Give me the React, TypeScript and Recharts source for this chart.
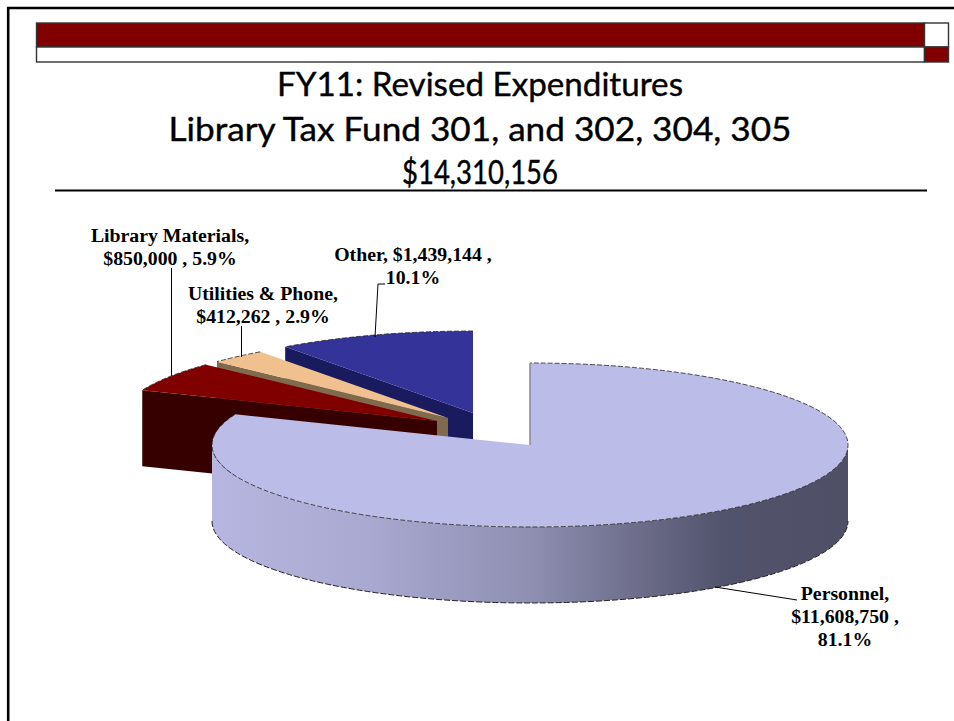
import { PieChart, Pie } from "recharts"

const CATEGORIES = ["Other", "Utilities & Phone", "Library Materials", "Personnel"]
const AMOUNTS = [1439144, 412262, 850000, 11608750]

const chartData = CATEGORIES.map((name, i) => ({ name, value: AMOUNTS[i] }))

const TITLE_LINES = ["FY11: Revised Expenditures", "Library Tax Fund 301, and 302, 304, 305", "$14,310,156"]
const TITLE_BASELINES = [96, 141, 184]
const TITLE_WIDTHS = [406, 623, 156]

const WIDTH = 954
const HEIGHT = 721
const SQUASH = 82 / 318
const DEPTH = 76

// per slice look: exploded offset from the pie center, and colors
const SLICE_STYLE: Record<string, { dx: number; dy: number; top: string; side: string }> = {
  Other: { dx: -57, dy: -32, top: "#333399", side: "#1a1a5e" },
  "Utilities & Phone": { dx: -82, dy: -27, top: "#f0c08e", side: "#7f6a4e" },
  "Library Materials": { dx: -93, dy: -24, top: "#800000", side: "#360000" },
  Personnel: { dx: 0, dy: 0, top: "#bcbce9", side: "url(#personnelSide)" },
}

const LABEL_STYLE: Record<string, { x: number; y: number; lines: (v: string, p: string) => string[]; leader: [number, number][] }> = {
  Other: {
    x: 413,
    y: 261,
    lines: (v, p) => [`Other, ${v} ,`, p],
    leader: [[385, 284], [378, 284], [375, 337]],
  },
  "Utilities & Phone": {
    x: 263,
    y: 300,
    lines: (v, p) => ["Utilities & Phone,", `${v} , ${p}`],
    leader: [[241.5, 326], [241.5, 357]],
  },
  "Library Materials": {
    x: 170,
    y: 242,
    lines: (v, p) => ["Library Materials,", `${v} , ${p}`],
    leader: [[171.5, 268], [171.5, 376]],
  },
  Personnel: {
    x: 845,
    y: 600,
    lines: (v, p) => ["Personnel,", `${v} ,`, p],
    leader: [[797, 600], [715, 587]],
  },
}

const RAD = Math.PI / 180

function PieSlice3D(props: any) {
  const { cx, cy, outerRadius, startAngle, endAngle, name } = props
  const style = SLICE_STYLE[name]
  const ox = cx + style.dx
  const oy = cy + style.dy
  const rx = outerRadius
  const ry = outerRadius * SQUASH
  const px = (a: number) => ox + rx * Math.cos(a * RAD)
  const py = (a: number) => oy - ry * Math.sin(a * RAD)
  const arc = (from: number, to: number, dy = 0, sweep = 0) =>
    `A${rx} ${ry} 0 ${Math.abs(to - from) > 180 ? 1 : 0} ${sweep} ${px(to)} ${py(to) + dy}`

  const topFace = `M${ox} ${oy}L${px(startAngle)} ${py(startAngle)}${arc(startAngle, endAngle)}Z`
  const cutFace = `M${ox} ${oy}L${px(endAngle)} ${py(endAngle)}L${px(endAngle)} ${py(endAngle) + DEPTH}L${ox} ${oy + DEPTH}Z`

  // only the part of the rim facing the viewer gets a side wall
  const wallFrom = Math.max(startAngle, 180)
  const wallTo = Math.min(endAngle, 360)
  const wall =
    wallTo > wallFrom
      ? `M${px(wallFrom)} ${py(wallFrom)}${arc(wallFrom, wallTo)}L${px(wallTo)} ${py(wallTo) + DEPTH}${arc(wallTo, wallFrom, DEPTH, 1)}Z`
      : null

  return (
    <g>
      <path d={cutFace} fill={style.side} />
      {wall && <path d={wall} fill={style.side} />}
      {wall && (
        <path
          d={`M${px(wallFrom)} ${py(wallFrom) + DEPTH}${arc(wallFrom, wallTo, DEPTH)}`}
          fill="none"
          stroke="#222"
          strokeWidth={1}
          strokeDasharray="6 2"
        />
      )}
      <path d={topFace} fill={style.top} />
      <path
        d={`M${px(startAngle)} ${py(startAngle)}${arc(startAngle, endAngle)}`}
        fill="none"
        stroke="#222"
        strokeWidth={0.8}
        strokeDasharray="5 2"
      />
      {name === "Personnel" && (
        <path d={`M${ox} ${oy}L${px(endAngle)} ${py(endAngle)}`} stroke="#85859f" strokeWidth={1.5} />
      )}
    </g>
  )
}

function SliceLabel(props: any) {
  const { name, value, percent } = props
  const layout = LABEL_STYLE[name]
  const lines = layout.lines(`$${value.toLocaleString("en-US")}`, `${(percent * 100).toFixed(1)}%`)
  return (
    <text
      x={layout.x}
      y={layout.y}
      textAnchor="middle"
      fontFamily="'Liberation Serif', serif"
      fontWeight="bold"
      fontSize={19.8}
      fill="#000"
    >
      {lines.map((line, i) => (
        <tspan key={i} x={layout.x} y={layout.y + i * 23}>
          {line}
        </tspan>
      ))}
    </text>
  )
}

function LeaderLine(props: any) {
  const layout = LABEL_STYLE[props.name]
  return <polyline points={layout.leader.map((p) => p.join(",")).join(" ")} fill="none" stroke="#000" strokeWidth={1} />
}

function Banner() {
  return (
    <svg width={WIDTH} height={HEIGHT} style={{ position: "absolute", left: 0, top: 0 }}>
      <rect x={0} y={0} width={WIDTH} height={HEIGHT} fill="#fff" />
      <path d={`M8.2 ${HEIGHT}V8H${WIDTH}`} fill="none" stroke="#000" strokeWidth={2.6} />
      <rect x={36.5} y={23} width={888} height={24} fill="#800000" stroke="#333" strokeWidth={1.4} />
      <rect x={924.5} y={23} width={24} height={24} fill="#fff" stroke="#333" strokeWidth={1.4} />
      <rect x={36.5} y={47} width={888} height={15} fill="#fff" stroke="#333" strokeWidth={1.4} />
      <rect x={924.5} y={47} width={24} height={15} fill="#800000" stroke="#333" strokeWidth={1.4} />
      <line x1={55} x2={927} y1={190.5} y2={190.5} stroke="#000" strokeWidth={2} />
      {TITLE_LINES.map((line, i) => (
        <text
          key={i}
          x={480}
          y={TITLE_BASELINES[i]}
          textAnchor="middle"
          fontFamily="Lato, sans-serif"
          fontSize={33}
          fill="#000"
          stroke="#000"
          strokeWidth={0.4}
          textLength={TITLE_WIDTHS[i]}
          lengthAdjust="spacingAndGlyphs"
        >
          {line}
        </text>
      ))}
    </svg>
  )
}

export default function App() {
  return (
    <div style={{ position: "absolute", left: 0, top: 0, width: WIDTH, height: HEIGHT }}>
      <Banner />
      <div style={{ position: "absolute", left: 0, top: 0 }}>
        <PieChart width={WIDTH} height={HEIGHT} margin={{ top: 0, right: 0, bottom: 0, left: 0 }}>
          <defs>
            <linearGradient id="personnelSide" gradientUnits="userSpaceOnUse" x1={213} x2={849} y1={0} y2={0}>
              <stop offset="0" stopColor="#b6b6e0" />
              <stop offset="0.25" stopColor="#a8a8d0" />
              <stop offset="0.5" stopColor="#8f8fb2" />
              <stop offset="0.8" stopColor="#52536c" />
              <stop offset="1" stopColor="#4f5066" />
            </linearGradient>
          </defs>
          <Pie
            data={chartData}
            dataKey="value"
            nameKey="name"
            cx={530}
            cy={445}
            innerRadius={0}
            outerRadius={318}
            startAngle={90}
            endAngle={450}
            stroke="none"
            isAnimationActive={false}
            shape={PieSlice3D}
            label={SliceLabel}
            labelLine={LeaderLine}
          />
        </PieChart>
      </div>
    </div>
  )
}
